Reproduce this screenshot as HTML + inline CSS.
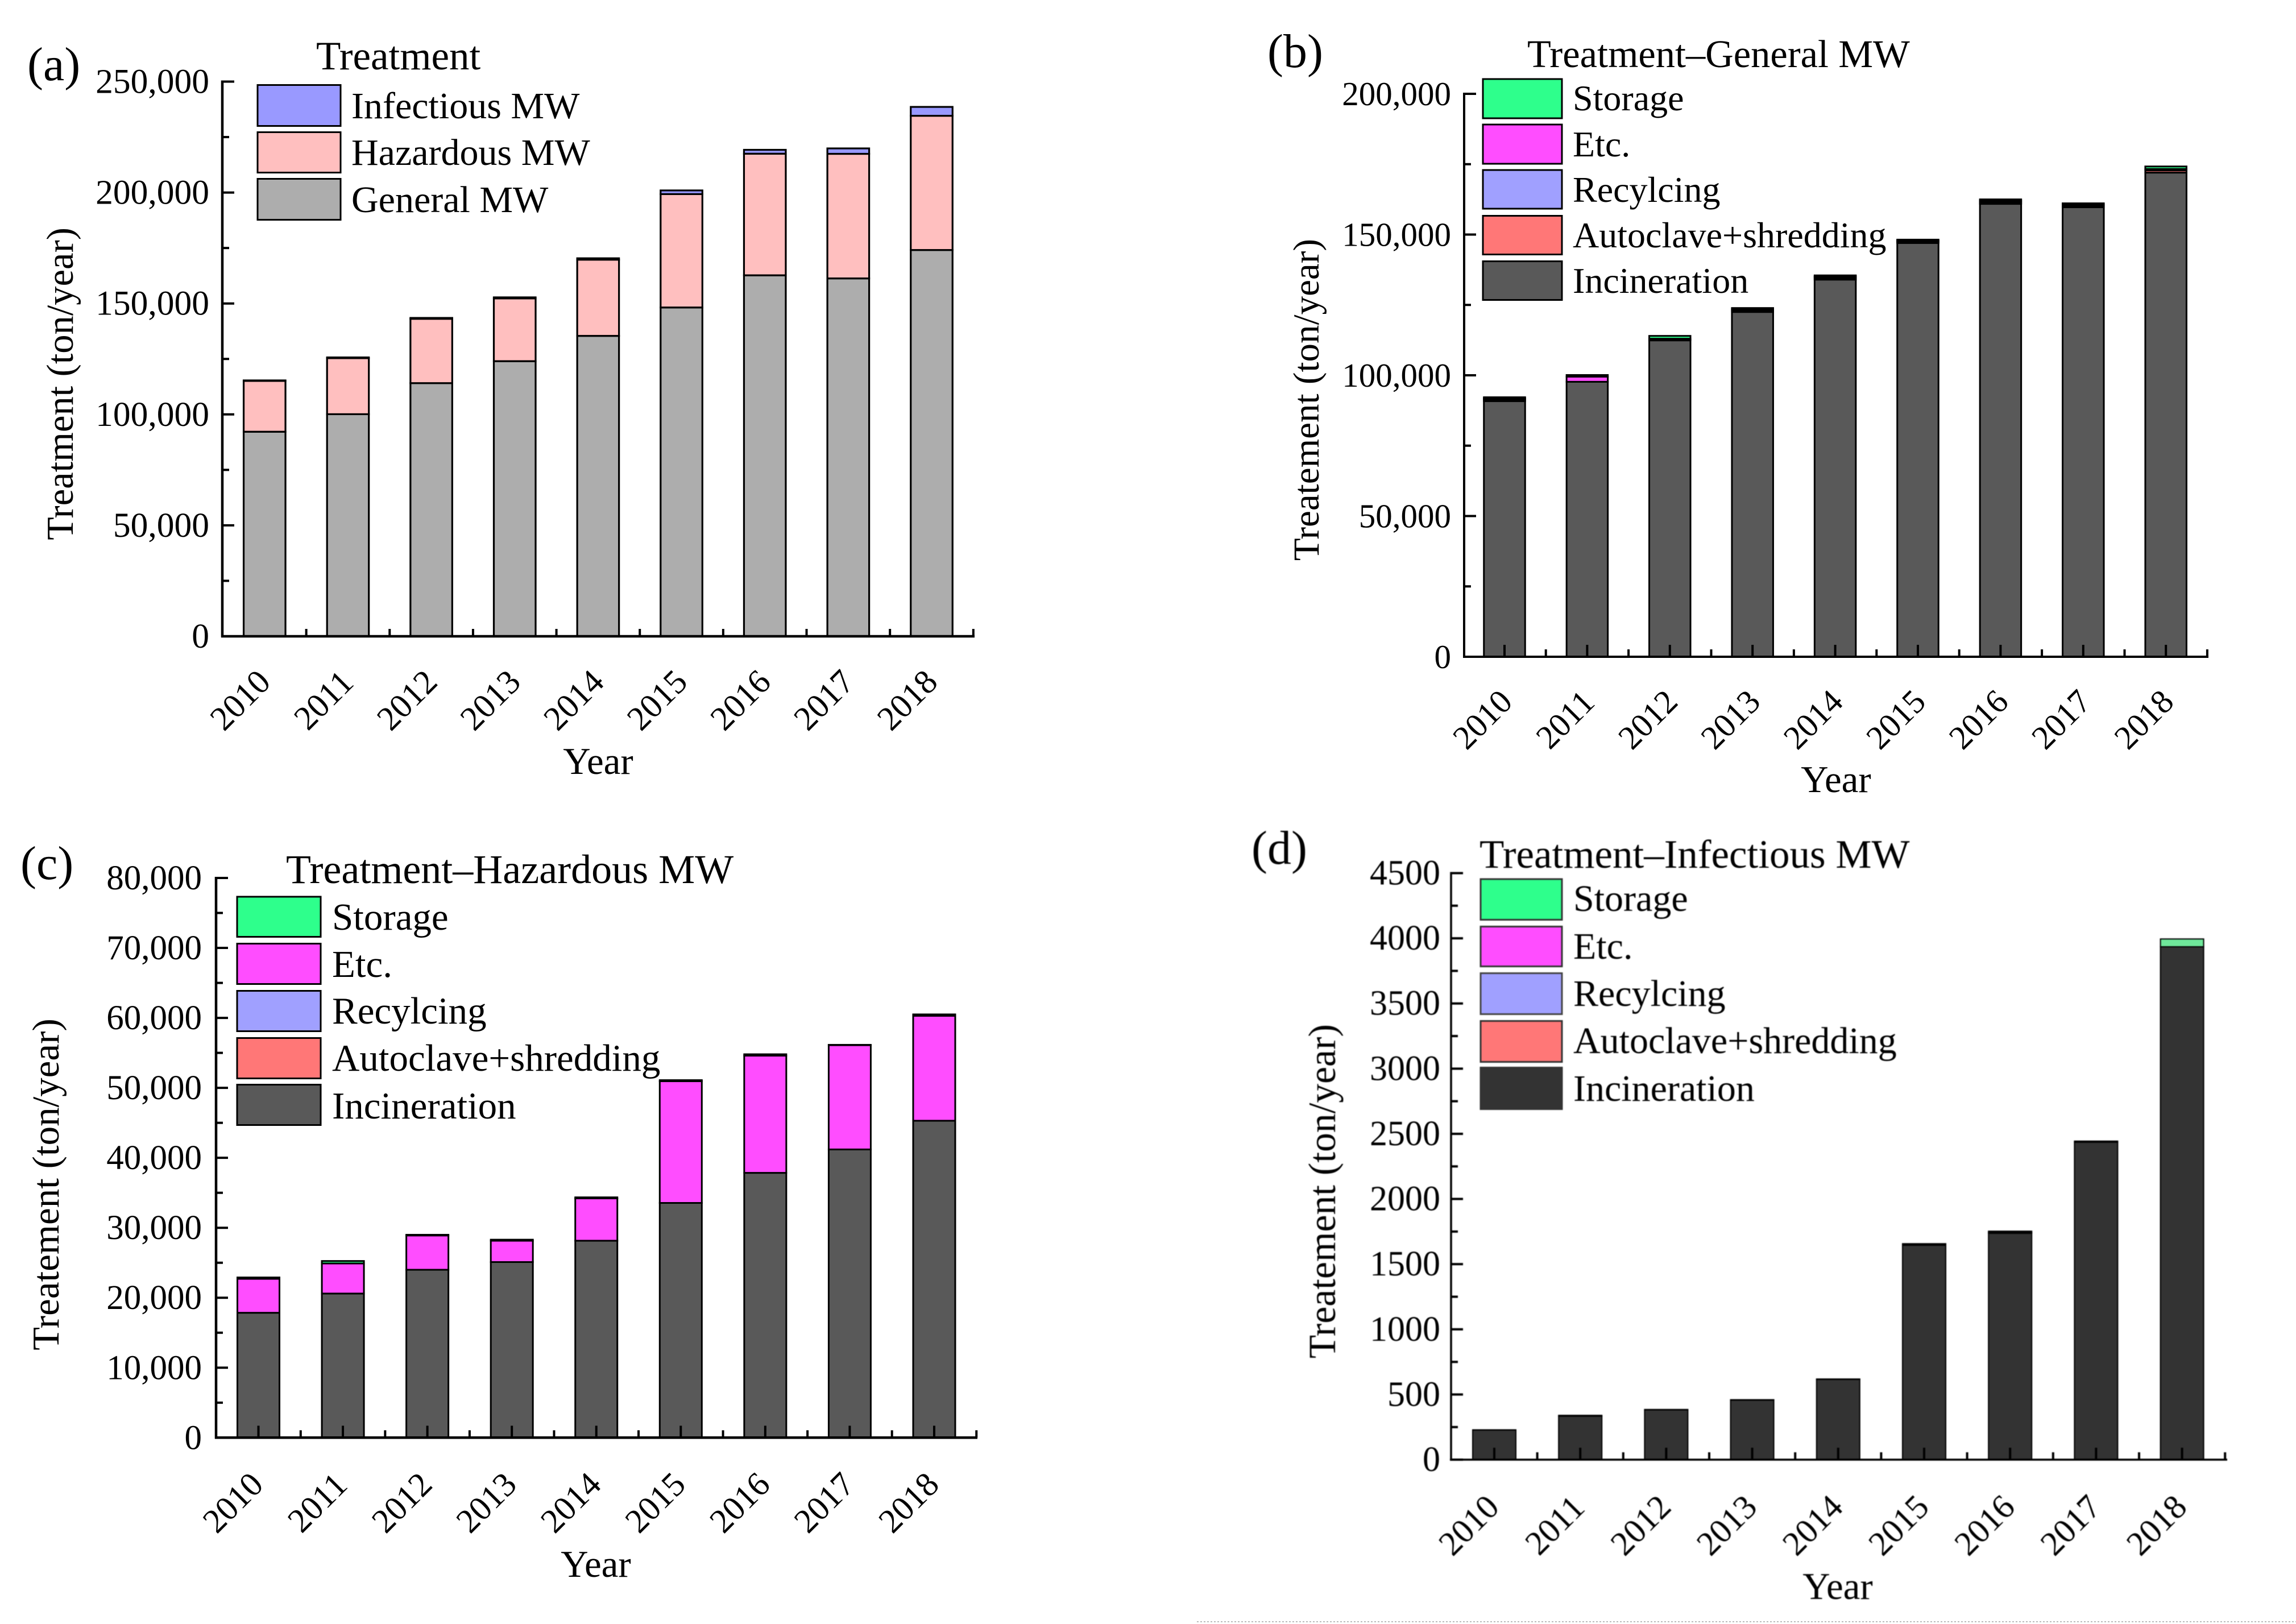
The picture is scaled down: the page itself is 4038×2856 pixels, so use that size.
<!DOCTYPE html>
<html lang="en">
<head>
<meta charset="utf-8">
<title>Medical waste treatment charts</title>
<style>
  html, body { margin: 0; padding: 0; background: #fff; }
  svg { display: block; }
  text { font-family: "Liberation Serif", "Times New Roman", serif; fill: #000; }
  .sw { stroke: #000; stroke-width: 3; }
</style>
</head>
<body>
<svg id="figure" xmlns="http://www.w3.org/2000/svg" width="4038" height="2856" viewBox="0 0 4038 2856">
  <rect x="0" y="0" width="4038" height="2856" fill="#ffffff"/>

  <!-- PANEL A -->
  <g id="panel-a">
    <g id="plot-a"></g>
    <text x="48" y="141" font-size="84">(a)</text>
    <text transform="translate(128,675) rotate(-90)" text-anchor="middle" font-size="66.5">Treatment (ton/year)</text>
    <text x="1052" y="1361" text-anchor="middle" font-size="67">Year</text>
    <g>
      <text x="556" y="122" font-size="71">Treatment</text>
      <rect class="sw" x="453" y="149.5" width="146" height="72" fill="#9999ff"/>
      <text x="618" y="208" font-size="66">Infectious MW</text>
      <rect class="sw" x="453" y="232.5" width="146" height="71" fill="#ffbfbf"/>
      <text x="618" y="290" font-size="66">Hazardous MW</text>
      <rect class="sw" x="453" y="314.5" width="146" height="72" fill="#adadad"/>
      <text x="618" y="373" font-size="66">General MW</text>
    </g>
  </g>

  <!-- PANEL B -->
  <g id="panel-b">
    <g id="plot-b"></g>
    <text x="2229" y="118" font-size="84">(b)</text>
    <text transform="translate(2319,703) rotate(-90)" text-anchor="middle" font-size="65">Treatement (ton/year)</text>
    <text x="3229" y="1393" text-anchor="middle" font-size="67">Year</text>
    <g>
      <text x="2686" y="118" font-size="68.5">Treatment–General MW</text>
      <rect class="sw" x="2608" y="139" width="139" height="69" fill="#2eff8c"/>
      <text x="2766" y="194" font-size="64">Storage</text>
      <rect class="sw" x="2608" y="219" width="139" height="69" fill="#ff4dff"/>
      <text x="2766" y="275" font-size="64">Etc.</text>
      <rect class="sw" x="2608" y="299" width="139" height="68" fill="#a0a0ff"/>
      <text x="2766" y="355" font-size="64">Recylcing</text>
      <rect class="sw" x="2608" y="379.5" width="139" height="68" fill="#ff7777"/>
      <text x="2766" y="435" font-size="64">Autoclave+shredding</text>
      <rect class="sw" x="2608" y="459.5" width="139" height="68" fill="#595959"/>
      <text x="2766" y="515" font-size="64">Incineration</text>
    </g>
  </g>

  <!-- PANEL C -->
  <g id="panel-c">
    <g id="plot-c"></g>
    <text x="36" y="1546" font-size="84">(c)</text>
    <text transform="translate(103,2083) rotate(-90)" text-anchor="middle" font-size="67">Treatement (ton/year)</text>
    <text x="1048" y="2773" text-anchor="middle" font-size="67">Year</text>
    <g>
      <text x="503" y="1553" font-size="72">Treatment–Hazardous MW</text>
      <rect class="sw" x="417" y="1577" width="147" height="70.5" fill="#2eff8c"/>
      <text x="584" y="1635" font-size="67">Storage</text>
      <rect class="sw" x="417" y="1659.5" width="147" height="71" fill="#ff4dff"/>
      <text x="584" y="1718" font-size="67">Etc.</text>
      <rect class="sw" x="417" y="1742.5" width="147" height="71" fill="#a0a0ff"/>
      <text x="584" y="1800" font-size="67">Recylcing</text>
      <rect class="sw" x="417" y="1825.5" width="147" height="71" fill="#ff7777"/>
      <text x="584" y="1883" font-size="67">Autoclave+shredding</text>
      <rect class="sw" x="417" y="1907.5" width="147" height="71" fill="#595959"/>
      <text x="584" y="1967" font-size="67">Incineration</text>
    </g>
  </g>

  <!-- PANEL D -->
  <g id="panel-d" style="filter:blur(0.9px)">
    <g id="plot-d"></g>
    <text x="2201" y="1519" font-size="84">(d)</text>
    <text transform="translate(2348,2095) rotate(-90)" text-anchor="middle" font-size="67.5" fill="#222">Treatement (ton/year)</text>
    <text x="3232" y="2812" text-anchor="middle" font-size="67">Year</text>
    <g>
      <text x="2602" y="1526" font-size="71">Treatment–Infectious MW</text>
      <rect class="sw" x="2604" y="1546" width="143" height="71.5" fill="#2eff8c" style="stroke:#333"/>
      <text x="2767" y="1602" font-size="66">Storage</text>
      <rect class="sw" x="2604" y="1629.5" width="143" height="70" fill="#ff4dff" style="stroke:#333"/>
      <text x="2767" y="1686" font-size="66">Etc.</text>
      <rect class="sw" x="2604" y="1711.5" width="143" height="72" fill="#a0a0ff" style="stroke:#444"/>
      <text x="2767" y="1769" font-size="66">Recylcing</text>
      <rect class="sw" x="2604" y="1795.5" width="143" height="72" fill="#ff7777" style="stroke:#333"/>
      <text x="2767" y="1852" font-size="66">Autoclave+shredding</text>
      <rect class="sw" x="2604" y="1877.5" width="143" height="73" fill="#333333" style="stroke:#333"/>
      <text x="2767" y="1936" font-size="66">Incineration</text>
    </g>
  </g>

  <line x1="2105" y1="2852" x2="4038" y2="2852" stroke="#bbbbbb" stroke-width="2" stroke-dasharray="3 3"/>
</svg>

<script>
const years = ['2010','2011','2012','2013','2014','2015','2016','2017','2018'];

/* Panel (a): total treatment by waste type, ton/year */
const aGeneral    = [92200, 100100, 114100, 124000, 135400, 148200, 162700, 161300, 174100];
const aHazardous  = [22900, 25250, 29000, 28300, 34350, 51100, 54800, 56150, 60500];
const aInfectious = [230, 340, 385, 460, 620, 1650, 1750, 2440, 3990];
const aYTicks     = [0, 50000, 100000, 150000, 200000, 250000];

/* Panel (b): general MW by treatment method */
const bIncineration = [90800, 97700, 112400, 122500, 134000, 147000, 160900, 159700, 172000];
const bAutoclave    = [500, 0, 200, 500, 500, 400, 500, 500, 800];
const bRecycling    = [300, 0, 200, 300, 400, 300, 400, 300, 300];
const bEtc          = [300, 1800, 200, 300, 300, 300, 400, 300, 200];
const bStorage      = [300, 600, 1000, 300, 300, 200, 300, 300, 900];
const bYTicks       = [0, 50000, 100000, 150000, 200000];

/* Panel (c): hazardous MW by treatment method */
const cIncineration = [17850, 20600, 24000, 25100, 28150, 33550, 37850, 41200, 45300];
const cAutoclave    = [0, 0, 0, 0, 0, 0, 0, 0, 0];
const cRecycling    = [0, 0, 0, 0, 0, 0, 0, 0, 0];
const cEtc          = [4850, 4300, 4900, 3050, 6050, 17400, 16750, 14900, 15000];
const cStorage      = [200, 350, 100, 150, 150, 150, 200, 50, 200];
const cYTicks       = [0, 10000, 20000, 30000, 40000, 50000, 60000, 70000, 80000];

/* Panel (d): infectious MW by treatment method */
const dIncineration = [227, 334, 382, 457, 616, 1645, 1737, 2436, 3935];
const dAutoclave    = [0, 0, 0, 0, 0, 0, 0, 0, 0];
const dRecycling    = [0, 0, 0, 0, 0, 0, 0, 0, 0];
const dEtc          = [0, 0, 0, 0, 0, 6, 8, 0, 0];
const dStorage      = [2, 6, 3, 3, 3, 6, 8, 8, 60];
const dYTicks       = [0, 500, 1000, 1500, 2000, 2500, 3000, 3500, 4000, 4500];

const COLORS = {
  general: '#adadad', hazardous: '#ffbfbf', infectious: '#9999ff',
  inc: '#595959', incDark: '#333333', autoclave: '#ff7777',
  recycling: '#a0a0ff', etc: '#ff4dff', storage: '#2eff8c'
};

const SVG_NS = 'http://www.w3.org/2000/svg';

function make(tag, parent) {
  const node = document.createElementNS(SVG_NS, tag);
  parent.appendChild(node);
  return node;
}

function drawLine(parent, x1, y1, x2, y2, width, name) {
  const line = make('line', parent);
  
  
  line.setAttribute('x1', x1);
  line.setAttribute('y1', y1);
  line.setAttribute('x2', x2);
  line.setAttribute('y2', y2);
  line.setAttribute('stroke', '#000');
  line.setAttribute('stroke-width', width);
  return line;
}

function drawBars(root, cfg, yScale, xScale) {
  cfg.layers.forEach(function (layer) {
    years.forEach(function (year, i) {
      let below = 0;
      for (const other of cfg.layers) {
        if (other === layer) break;
        below += other.values[i];
      }
      const top = yScale(below + layer.values[i]);
      const bottom = yScale(below);
      const bar = make('rect', root);
      
      
      bar.setAttribute('x', xScale(i) - cfg.barWidth / 2);
      bar.setAttribute('y', top);
      bar.setAttribute('width', cfg.barWidth);
      bar.setAttribute('height', Math.max(bottom - top, 0));
      bar.setAttribute('fill', layer.color);
      bar.setAttribute('stroke', '#000');
      bar.setAttribute('stroke-width', cfg.barStroke);
    });
  });
}

function drawPanel(cfg) {
  const root = document.getElementById(cfg.target);
  const yMax = cfg.yTicks[cfg.yTicks.length - 1];
  const yScale = function (v) { return cfg.y0 - (v / yMax) * (cfg.y0 - cfg.yTop); };
  const xScale = function (i) { return cfg.firstCenter + i * cfg.step; };

  if (cfg.barsAboveTicks) {
    years.forEach(function (year, i) {
      drawLine(root, xScale(i), cfg.y0, xScale(i), cfg.y0 - 21, 4, 'x-major-tick');
    });
    drawBars(root, cfg, yScale, xScale);
  } else {
    drawBars(root, cfg, yScale, xScale);
    years.forEach(function (year, i) {
      drawLine(root, xScale(i), cfg.y0, xScale(i), cfg.y0 - 21, 4, 'x-major-tick');
    });
  }

  years.forEach(function (year, i) {
    drawLine(root, xScale(i) + cfg.step / 2, cfg.y0, xScale(i) + cfg.step / 2, cfg.y0 - 13, 4, 'x-minor-tick');
    const label = make('text', root);
    
    
    label.setAttribute('transform', 'translate(' + (xScale(i) + cfg.xLabelDx) + ',' + (cfg.y0 + cfg.xLabelDy) + ') rotate(-45)');
    label.setAttribute('text-anchor', 'middle');
    label.setAttribute('dominant-baseline', 'central');
    label.setAttribute('font-size', cfg.xFont);
    label.textContent = year;
  });

  cfg.yTicks.forEach(function (tick, i) {
    drawLine(root, cfg.x0, yScale(tick), cfg.x0 + 21, yScale(tick), 4, 'y-major-tick');
    if (i < cfg.yTicks.length - 1) {
      const mid = (tick + cfg.yTicks[i + 1]) / 2;
      drawLine(root, cfg.x0, yScale(mid), cfg.x0 + 12, yScale(mid), 4, 'y-minor-tick');
    }
    const label = make('text', root);
    
    
    label.setAttribute('x', cfg.yLabelRight);
    label.setAttribute('y', yScale(tick) + cfg.yLabelDy);
    label.setAttribute('text-anchor', 'end');
    label.setAttribute('font-size', cfg.yFont);
    label.textContent = cfg.comma ? tick.toLocaleString('en-US') : String(tick);
  });

  drawLine(root, cfg.x0, cfg.yTop - 2, cfg.x0, cfg.y0 + 2, cfg.axisWidth, 'y-axis');
  drawLine(root, cfg.x0 - 2, cfg.y0, cfg.xEnd, cfg.y0, cfg.axisWidth, 'x-axis');
}

drawPanel({
  target: 'plot-a', x0: 391, xEnd: 1714, y0: 1119, yTop: 143.5, axisWidth: 4.5,
  firstCenter: 465.3, step: 146.65, barWidth: 73.5, barStroke: 3.2, barsAboveTicks: true,
  yTicks: aYTicks, comma: true, yLabelRight: 368, yLabelDy: 20, yFont: 61.5,
  xLabelDx: -43, xLabelDy: 112, xFont: 60,
  layers: [
    { values: aGeneral, color: COLORS.general },
    { values: aHazardous, color: COLORS.hazardous },
    { values: aInfectious, color: COLORS.infectious }
  ]
});

drawPanel({
  target: 'plot-b', x0: 2575, xEnd: 3884, y0: 1155, yTop: 165, axisWidth: 4,
  firstCenter: 2646, step: 145.4, barWidth: 72.5, barStroke: 3, barsAboveTicks: false,
  yTicks: bYTicks, comma: true, yLabelRight: 2552, yLabelDy: 20, yFont: 59,
  xLabelDx: -39, xLabelDy: 110, xFont: 59,
  layers: [
    { values: bIncineration, color: COLORS.inc },
    { values: bAutoclave, color: COLORS.autoclave },
    { values: bRecycling, color: COLORS.recycling },
    { values: bEtc, color: COLORS.etc },
    { values: bStorage, color: COLORS.storage }
  ]
});

drawPanel({
  target: 'plot-c', x0: 380, xEnd: 1719, y0: 2528.3, yTop: 1544, axisWidth: 4.5,
  firstCenter: 454.5, step: 148.56, barWidth: 74, barStroke: 3, barsAboveTicks: false,
  yTicks: cYTicks, comma: true, yLabelRight: 355, yLabelDy: 20, yFont: 61,
  xLabelDx: -45, xLabelDy: 114, xFont: 60,
  layers: [
    { values: cIncineration, color: COLORS.inc },
    { values: cAutoclave, color: COLORS.autoclave },
    { values: cRecycling, color: COLORS.recycling },
    { values: cEtc, color: COLORS.etc },
    { values: cStorage, color: COLORS.storage }
  ]
});

drawPanel({
  target: 'plot-d', x0: 2552, xEnd: 3917, y0: 2567, yTop: 1535.5, axisWidth: 3.5,
  firstCenter: 2628, step: 151.2, barWidth: 76, barStroke: 2, barsAboveTicks: false,
  yTicks: dYTicks, comma: false, yLabelRight: 2533, yLabelDy: 20, yFont: 62,
  xLabelDx: -45, xLabelDy: 115, xFont: 60,
  layers: [
    { values: dIncineration, color: COLORS.incDark },
    { values: dAutoclave, color: COLORS.autoclave },
    { values: dRecycling, color: COLORS.recycling },
    { values: dEtc, color: COLORS.etc },
    { values: dStorage, color: '#6fe79a' }
  ]
});
</script>
</body>
</html>
